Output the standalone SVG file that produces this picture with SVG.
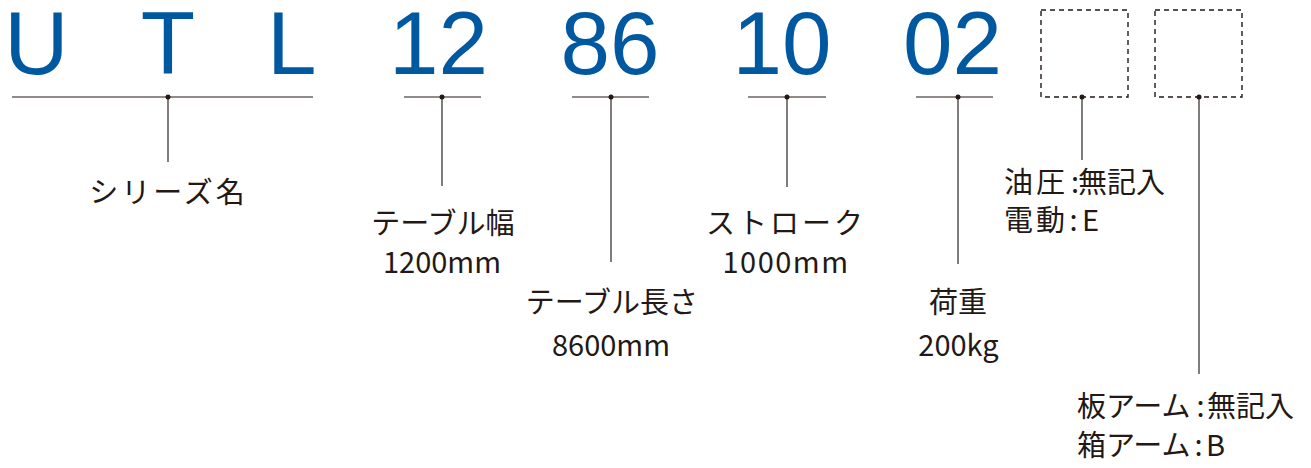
<svg xmlns="http://www.w3.org/2000/svg" width="1311" height="468" viewBox="0 0 1311 468">
<style>
.code{font-family:"Liberation Sans",Arial,sans-serif;font-size:89px;fill:#0059a0}
.lbl{font-family:"Noto Sans CJK JP","Noto Sans",sans-serif;font-size:29px;fill:#231815}
.mid{text-anchor:middle}
.wide{letter-spacing:3px}
.bar{stroke:#231815;stroke-width:1.2;fill:none}
.lead{stroke:#4a4544;stroke-width:1.4;fill:none}
.box{stroke:#231815;stroke-width:1.4;fill:none;stroke-dasharray:5 4}
.dot{fill:#231815}
</style>
<rect width="1311" height="468" fill="#fff"/>
<g id="code">
<text class="code mid" x="36.5" y="74">U</text>
<text class="code mid" x="168" y="74">T</text>
<text class="code" x="267" y="74">L</text>
<text class="code mid" x="438.5" y="74">12</text>
<text class="code mid" x="610" y="74">86</text>
<text class="code mid" x="782" y="74">10</text>
<text class="code mid" x="952.5" y="74">02</text>
</g>
<g id="connectors">
<line class="bar" x1="12" y1="97" x2="313" y2="97"/>
<line class="bar" x1="404" y1="97" x2="481" y2="97"/>
<line class="bar" x1="572" y1="97" x2="649" y2="97"/>
<line class="bar" x1="748" y1="97" x2="826" y2="97"/>
<line class="bar" x1="916" y1="97" x2="993" y2="97"/>
<rect class="box" x="1041" y="10" width="87" height="87"/>
<rect class="box" x="1155" y="10" width="87" height="87"/>
<line class="lead" x1="168" y1="97" x2="168" y2="162"/>
<line class="lead" x1="442" y1="97" x2="442" y2="186"/>
<line class="lead" x1="611" y1="97" x2="611" y2="262"/>
<line class="lead" x1="787" y1="97" x2="787" y2="187"/>
<line class="lead" x1="958" y1="97" x2="958" y2="264"/>
<line class="lead" x1="1082" y1="97" x2="1082" y2="160"/>
<line class="lead" x1="1199" y1="97" x2="1199" y2="374"/>
<circle class="dot" cx="168" cy="97" r="2.5"/>
<circle class="dot" cx="442" cy="97" r="2.5"/>
<circle class="dot" cx="611" cy="97" r="2.5"/>
<circle class="dot" cx="787" cy="97" r="2.5"/>
<circle class="dot" cx="958" cy="97" r="2.5"/>
<circle class="dot" cx="1082" cy="97" r="2.5"/>
<circle class="dot" cx="1199" cy="97" r="2.5"/>
</g>
<g id="series"><text class="lbl mid wide" x="168.5" y="203">シリーズ名</text></g>
<g id="width"><text class="lbl mid" x="443" y="234">テーブル幅</text><text class="lbl mid" x="442" y="273">1200mm</text></g>
<g id="length"><text class="lbl mid" x="612" y="313">テーブル長さ</text><text class="lbl mid" x="611" y="356">8600mm</text></g>
<g id="stroke"><text class="lbl mid wide" x="786" y="234">ストローク</text><text class="lbl mid" x="786" y="273" style="letter-spacing:1.5px">1000mm</text></g>
<g id="load"><text class="lbl mid" x="958" y="313">荷重</text><text class="lbl mid" x="958.5" y="356">200kg</text></g>
<g id="drive"><text class="lbl" x="1004" y="193"><tspan class="wide">油圧</tspan><tspan x="1071">:</tspan><tspan x="1078">無記入</tspan></text><text class="lbl" x="1004" y="231"><tspan class="wide">電動</tspan><tspan x="1069.5">:</tspan><tspan x="1082">E</tspan></text></g>
<g id="arm"><text class="lbl" x="1077" y="417">板アーム<tspan x="1196.5">:</tspan><tspan x="1207">無記入</tspan></text><text class="lbl" x="1077" y="456">箱アーム<tspan x="1194.5">:</tspan><tspan x="1206">B</tspan></text></g>
</svg>
